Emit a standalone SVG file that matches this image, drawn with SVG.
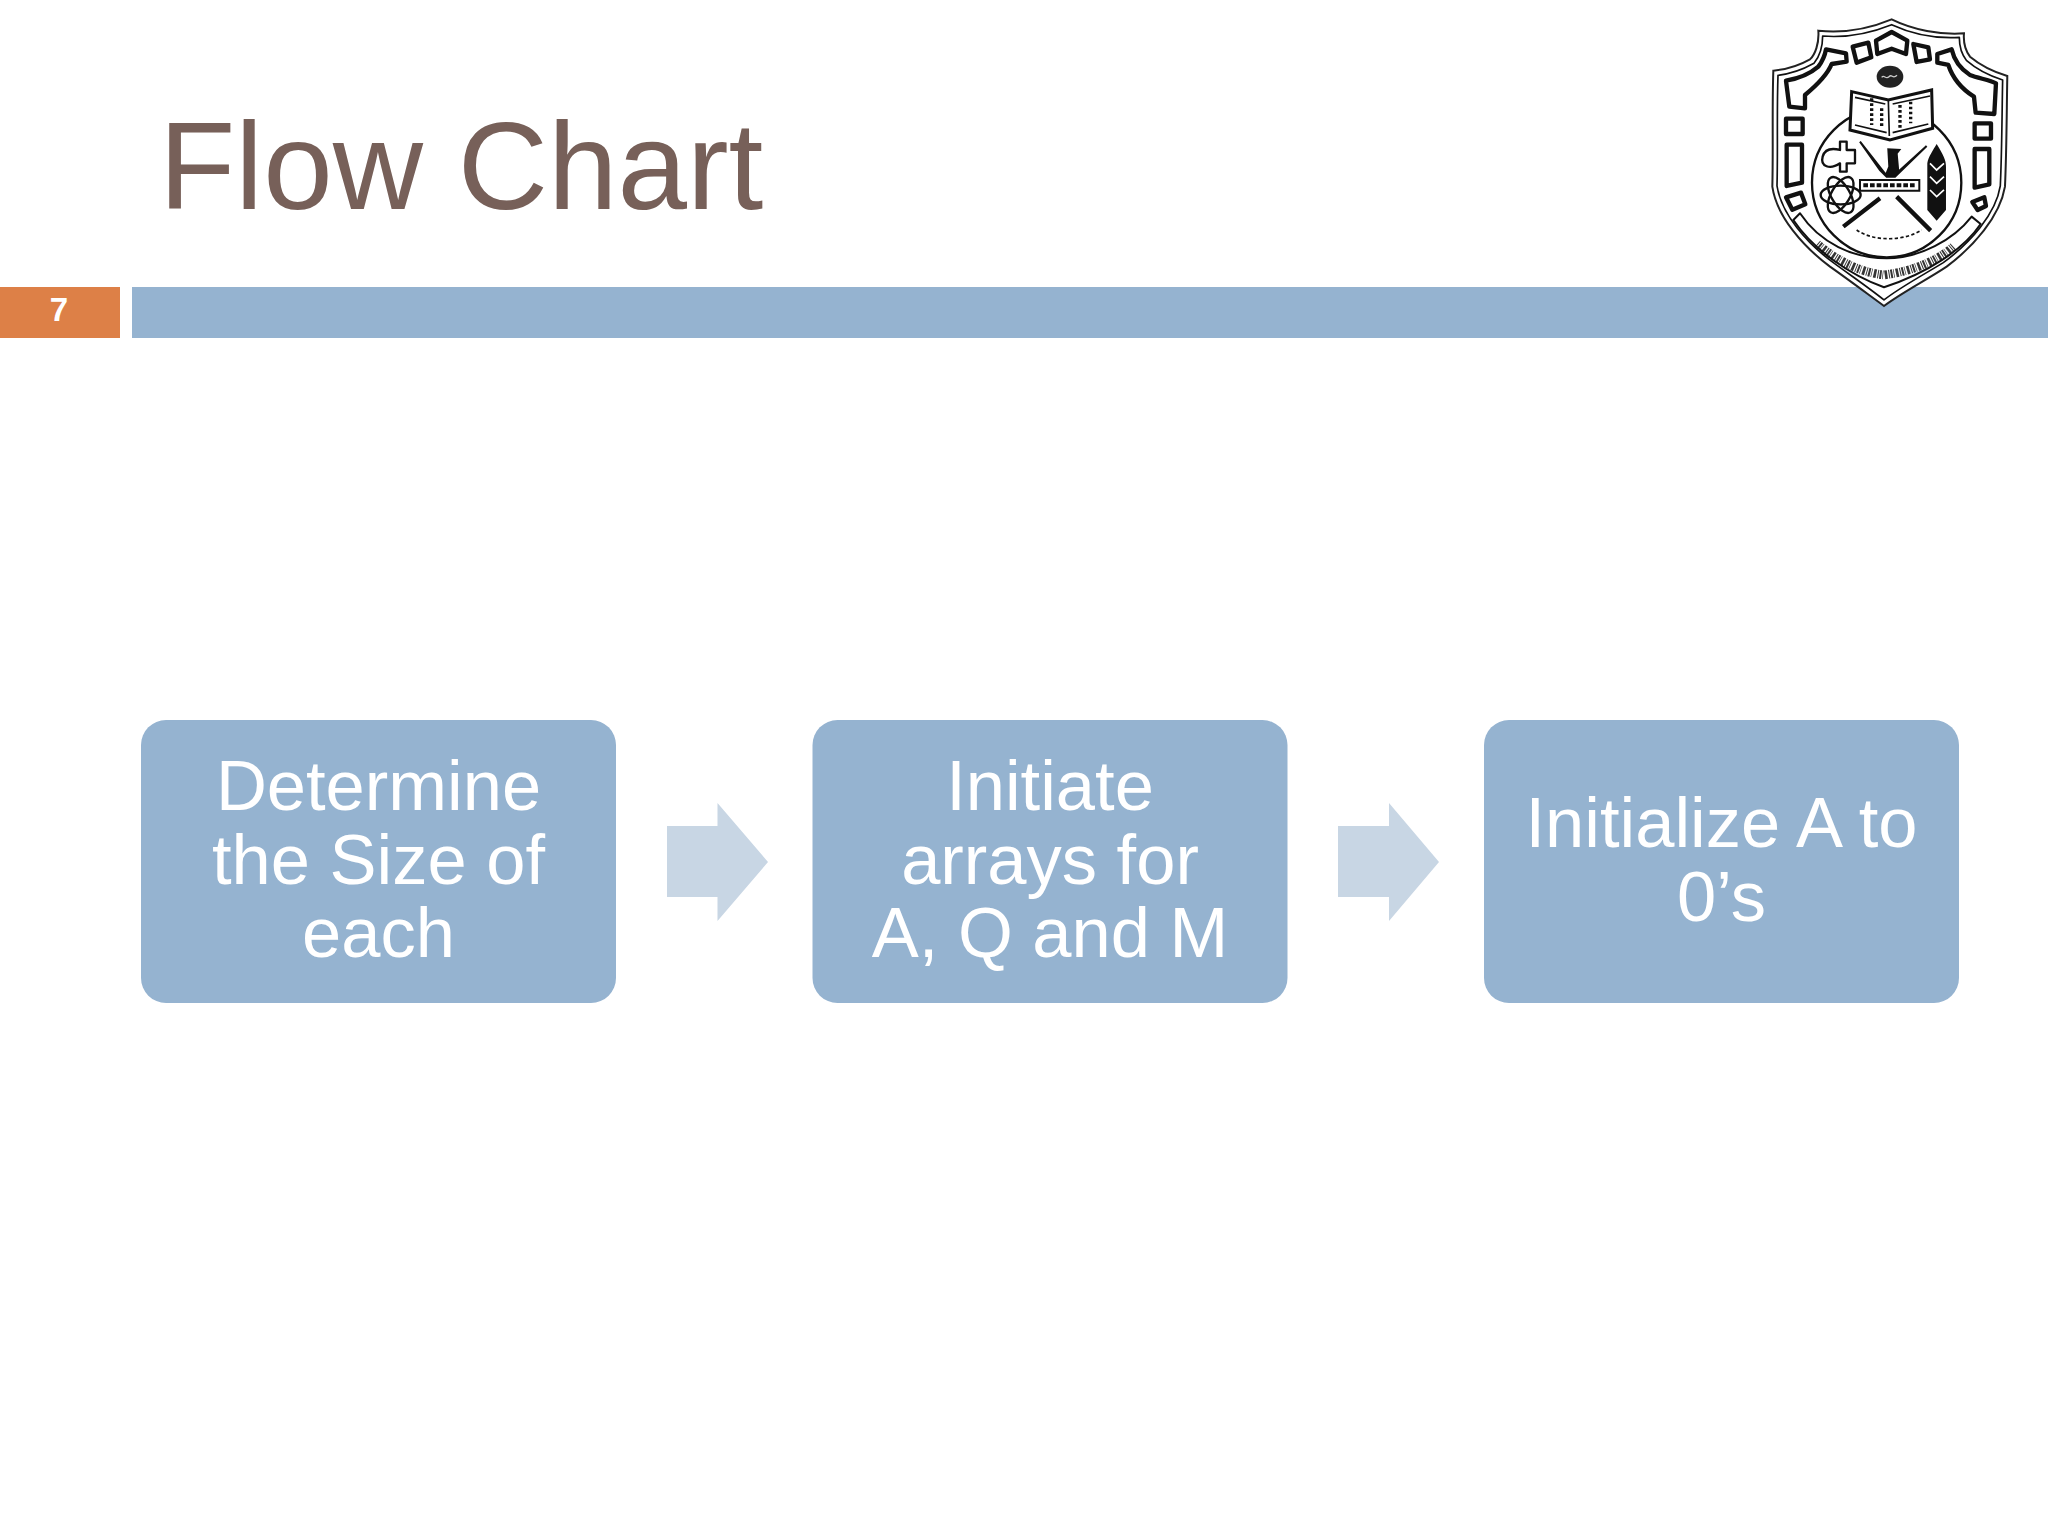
<svg xmlns="http://www.w3.org/2000/svg" width="2048" height="1536" viewBox="0 0 2048 1536">
<style>
.box{fill:#95b3d0}
.bt{font:70.500px "Liberation Sans",Arial,sans-serif;fill:#fff;text-anchor:middle}
.arr{fill:#c8d6e4}
.k{fill:none;stroke:#111;stroke-linejoin:round}
.b{fill:#fff;stroke:#111;stroke-width:13;stroke-linejoin:round}
</style>
<rect width="2048" height="1536" fill="#fff"/>
<text x="159" y="209" font-family="'Liberation Sans',Arial,sans-serif" font-size="125" fill="#776059">Flow Chart</text>
<rect x="0" y="287" width="120" height="51" fill="#dd8047"/>
<text x="59" y="321" font-family="'Liberation Sans',Arial,sans-serif" font-size="33" font-weight="bold" fill="#fff" text-anchor="middle">7</text>
<rect x="132" y="287" width="1916" height="51" fill="#95b3d0"/>
<g id="crest" transform="translate(1740 0) scale(.3333)">
<path d="M455 58C390 85 310 100 235 92C238 130 225 165 210 178C180 195 140 208 100 212C96 330 100 450 97 560C110 650 190 740 270 800C320 835 380 880 432 918C490 875 560 840 620 800C700 740 780 650 795 560C800 450 800 340 802 228C760 215 720 195 690 170C675 150 670 125 672 100C600 105 520 90 455 58Z" fill="#fff" stroke="#222" stroke-width="6"/>
<path d="M455 74C390 100 320 114 248 108C248 140 238 170 222 190C190 208 150 222 114 226C110 340 114 450 111 558C124 642 200 730 280 788C330 825 385 862 432 900C480 862 550 825 610 788C690 730 768 642 781 558C786 450 786 340 788 240C750 228 710 208 680 182C662 160 658 135 658 112C590 116 520 104 455 74Z" class="k" stroke-width="5"/>
<path class="b" d="M408 122L455 96L502 122L498 162L455 146L412 162Z"/>
<path class="b" d="M338 140L385 128L394 172L350 188Z"/>
<path class="b" d="M520 132L565 142L570 178L530 186Z"/>
<path class="b" d="M138 242C175 236 205 226 235 200C250 180 255 165 258 148L318 160L320 185L275 192C262 225 225 260 195 285L195 325L148 320Z"/>
<path class="b" d="M592 162L635 148C640 170 650 200 690 225C715 235 750 240 768 250L763 342L707 338L702 290C670 270 640 240 625 195L592 188Z"/>
<path class="b" d="M138 356H188V402H138Z"/>
<path class="b" d="M704 370H753V416H704Z"/>
<path class="b" d="M140 434H186V548L140 558Z"/>
<path class="b" d="M704 447H748V553L704 563Z"/>
<path class="b" d="M138 592L183 578L196 613L157 629Z"/>
<path class="b" d="M697 606L733 592L738 618L713 630Z"/>
<path d="M160 660L180 640C240 730 340 775 440 775C540 775 640 720 695 650L722 672C670 750 560 820 432 862C330 825 220 750 160 660Z" fill="#fff" stroke="#111" stroke-width="6" stroke-linejoin="round"/>
<path d="M232 732C300 790 370 818 432 825C510 815 590 785 640 740" class="k" stroke-width="26" stroke-dasharray="3 3 6 3 2 5 8 4" stroke-opacity=".85"/>
<circle cx="440" cy="548" r="224" fill="#fff" stroke="#111" stroke-width="7"/>
<ellipse cx="450" cy="230" rx="40" ry="33" fill="#222"/>
<path d="M425 232c8-10 12 8 22-2s10 10 24-4" fill="none" stroke="#ccc" stroke-width="4"/>
<path d="M335 275L445 300L575 270L578 385L450 420L330 390Z" fill="#fff" stroke="#111" stroke-width="9"/>
<path class="k" stroke-width="5" d="M445 300L448 408M345 292L436 312M570 288L458 312M345 375L440 398M565 372L458 398"/>
<path class="k" stroke-width="10" stroke-dasharray="8 7" d="M395 295V375M425 325V385M480 315V385M512 305V370"/>
<path d="M360 425L420 510L440 530L465 530L560 438L475 515L470 460L478 450L445 448L448 500L438 525Z" fill="#111" stroke="#111" stroke-width="6"/>
<path d="M360 540H538V572H360Z" fill="#fff" stroke="#111" stroke-width="6"/>
<path class="k" stroke-width="12" stroke-dasharray="14 6" d="M370 556H530"/>
<path class="k" stroke-width="13" d="M310 680L420 595M572 692L470 590"/>
<path class="k" stroke-width="5" stroke-dasharray="10 7" d="M350 690C400 725 490 725 545 690"/>
<path d="M590 432C610 465 618 480 618 500V630L590 662L562 630V490C565 470 580 450 590 432Z" fill="#111"/>
<path d="M570 490L590 510L612 490M570 530L590 550L612 530M570 570L590 590L612 570" fill="none" stroke="#fff" stroke-width="5"/>
<g class="k" stroke-width="7">
<path d="M300 425H320V450H345V490H320V515H300V490C270 510 240 500 248 470C255 445 280 445 300 450Z"/>
<ellipse cx="302" cy="585" rx="60" ry="28"/>
<ellipse cx="302" cy="585" rx="60" ry="28" transform="rotate(60 302 585)"/>
<ellipse cx="302" cy="585" rx="60" ry="28" transform="rotate(120 302 585)"/>
</g>
</g>
<g id="connectors">
<path class="arr" d="M667 826H717.500V803L768 862L717.500 921V897H667Z"/>
<path class="arr" d="M1338 826H1389V803L1439 862L1389 921V897H1338Z"/>
</g>
<g id="n1">
<rect class="box" x="141" y="720" width="475" height="283" rx="25"/>
<text class="bt" x="378.500" y="810">Determine</text>
<text class="bt" x="378.500" y="884">the Size of</text>
<text class="bt" x="378.500" y="957">each</text>
</g>
<g id="n2">
<rect class="box" x="812.500" y="720" width="475" height="283" rx="25"/>
<text class="bt" x="1050" y="810">Initiate</text>
<text class="bt" x="1050" y="884">arrays for</text>
<text class="bt" x="1050" y="957">A, Q and M</text>
</g>
<g id="n3">
<rect class="box" x="1484" y="720" width="475" height="283" rx="25"/>
<text class="bt" x="1721.500" y="847">Initialize A to</text>
<text class="bt" x="1721.500" y="921">0’s</text>
</g>
</svg>
